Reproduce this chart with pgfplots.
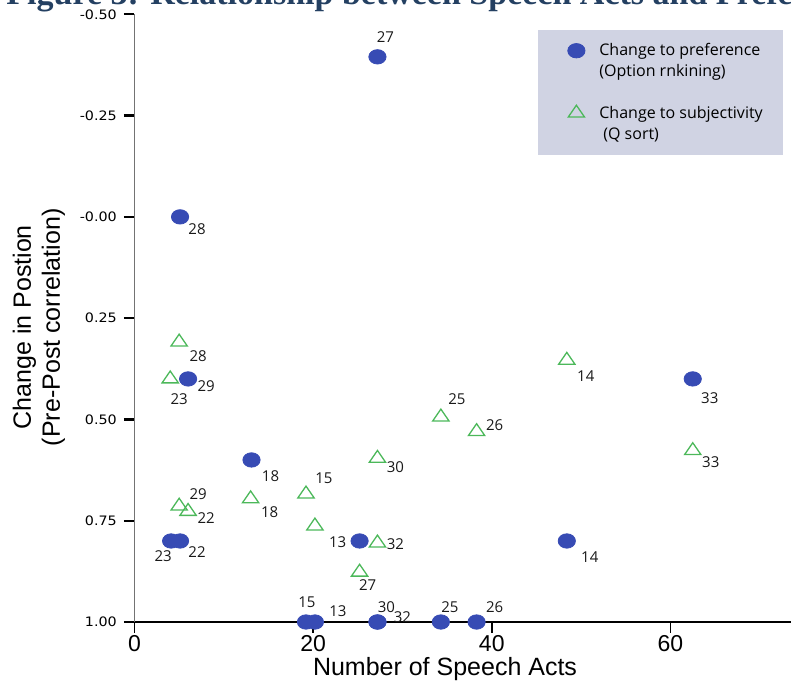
\documentclass[border=0pt]{standalone}
\usepackage{pgfplots}
\pgfplotsset{compat=1.18}
\usepackage{pgfplotstable}
\usepackage{fontspec}
\setmainfont{Liberation Sans}
\newfontfamily\opensans{Open Sans}
\newfontfamily\dejavuwide[FakeStretch=1.1]{DejaVu Sans}
\newfontfamily\titleserif{Liberation Serif}
\definecolor{prefblue}{RGB}{55,75,180}
\definecolor{subjgreen}{RGB}{76,184,90}
\definecolor{legbg}{RGB}{208,211,227}
\definecolor{titleblue}{RGB}{36,64,98}

% Change to preference (Option ranking)
\pgfplotstableread{
x y lab dx dy
27.2 -0.395 27 4 10
5.1 0.00 28 8.5 -6
6.0 0.40 29 9 -3.5
13.1 0.60 18 9.5 -8
4.1 0.80 23 -4 -7.5
5.1 0.80 22 8.5 -5.5
25.2 0.80 13 -11 -0.5
48.4 0.80 14 11.5 -8
62.5 0.40 33 8.5 -9.5
19.2 1.00 15 0.5 10
20.2 1.00 13 11.5 5.5
27.2 1.00 30 4.5 7.5
27.2 1.00 32 12.5 2.5
34.3 1.00 25 4.5 7.5
38.3 1.00 26 9 7.5
}\prefdata

% Change to subjectivity (Q sort)
\pgfplotstableread{
x y lab dx dy
5.0 0.309 28 9.5 -7
4.0 0.400 23 4.5 -10
5.0 0.714 29 9.5 6
6.0 0.727 22 9 -3.5
13.0 0.696 18 9.5 -6.5
19.2 0.684 15 9 8
27.2 0.596 30 9 -4.5
27.2 0.805 32 9 -0.5
25.2 0.877 27 4 -6.5
34.3 0.494 25 8 9
38.3 0.530 26 9 3
48.4 0.354 14 9.5 -8
62.5 0.577 33 9 -6
}\subjdata

\pgfplotsset{
  ptlabels/.style={
    nodes near coords,
    point meta=explicit symbolic,
    visualization depends on={\thisrow{dx} \as \dx},
    visualization depends on={\thisrow{dy} \as \dy},
    nodes near coords style={anchor=center, inner sep=0pt, xshift=\dx pt, yshift=\dy pt,
      font=\opensans\fontsize{7.5}{9}\selectfont, text=black!90},
  },
  prefmark/.style={only marks, mark=*, mark size=3.6pt, color=prefblue,
    mark options={xscale=1.2, fill=prefblue, draw=prefblue}},
  subjmark/.style={only marks, mark=triangle, mark size=4.7pt, color=subjgreen,
    mark options={yscale=0.84, line width=0.65pt, draw=subjgreen}},
}

\begin{document}
\begin{tikzpicture}
\path[use as bounding box] (0,0) rectangle (395.5pt,342pt);
\node[anchor=base west, inner sep=0pt, text=titleblue,
      font=\titleserif\bfseries\fontsize{17}{20}\selectfont]
  at (3pt,339.5pt) {Figure 3: Relationship between Speech Acts and Preferences};
\begin{axis}[
  at={(67.25pt,31pt)}, anchor=south west,
  scale only axis, width=328.25pt, height=303.85pt,
  xmin=0, xmax=73.5, ymin=-0.5, ymax=1.0, y dir=reverse,
  axis x line*=bottom, axis y line*=left,
  clip=false,
  xtick={0,20,40,60}, xticklabels={0,20,40,60},
  ytick={-0.5,-0.25,0,0.25,0.5,0.75,1},
  yticklabels={-0.50,-0.25,-0.00,0.25,0.50,0.75,1.00},
  tick align=outside,
  major tick length=5.3pt,
  tick style={draw=black, line width=1pt},
  x axis line style={black, line width=1pt},
  y axis line style={black!55, line width=0.65pt},
  xtick style={draw=black, line width=0.8pt},
  ytick style={draw=black, line width=1.2pt},
  x tick label style={font=\fontsize{11.5}{12}\selectfont, yshift=2pt},
  y tick label style={font=\dejavuwide\fontsize{6.5}{7}\selectfont},
  xlabel={Number of Speech Acts},
  xlabel style={font=\fontsize{12.5}{14}\selectfont, at={(axis description cs:0.473,0)}, anchor=center, yshift=-23.5pt},
  ylabel={Change in Postion\\(Pre-Post correlation)},
  ylabel style={align=center, font=\fontsize{12.5}{14.5}\selectfont, at={(axis description cs:-0.1455,0.485)}, anchor=center},
  legend style={at={(axis description cs:0.6146,0.974)}, anchor=north west,
    fill=legbg, draw=none, font=\opensans\fontsize{8}{10.6}\selectfont,
    inner xsep=8pt, inner ysep=4.5pt, row sep=9pt,
    cells={anchor=west, align=left},
    /tikz/every odd column/.append style={column sep=4.5pt}},
  legend cell align=left,
  legend image code/.code={\path[draw=none, fill=none] (0pt,-3pt) rectangle (16pt,3pt); \draw[#1] plot coordinates {(11pt,5.5pt)};},
]
\addplot[prefmark, ptlabels] table[x=x, y=y, meta=lab] {\prefdata};
\addlegendentry{Change to preference\\(Option rnkining)}
\addplot[subjmark, ptlabels] table[x=x, y=y, meta=lab] {\subjdata};
\addlegendentry{Change to subjectivity\\\hspace{2pt}(Q sort)}
\addplot[subjmark, forget plot] coordinates {(20.2,0.763)};
\end{axis}
\end{tikzpicture}
\end{document}
